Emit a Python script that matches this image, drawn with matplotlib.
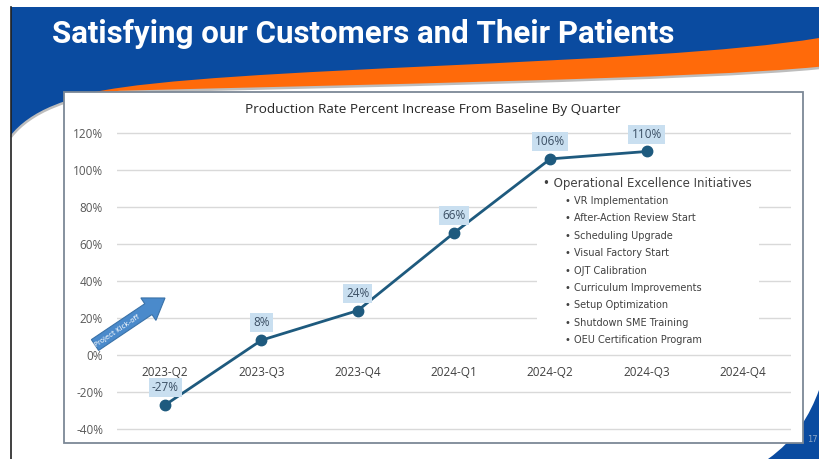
#
# Production rate slide recreation

import numpy as np
import matplotlib.pyplot as plt
from matplotlib.path import Path
from matplotlib.patches import PathPatch, Rectangle, FancyArrow

# chart data
quarters = ['2023-Q2', '2023-Q3', '2023-Q4', '2024-Q1', '2024-Q2', '2024-Q3', '2024-Q4']
increase = [-27, 8, 24, 66, 106, 110]  # percent, 2024-Q4 has no value yet
y_ticks = [-40, -20, 0, 20, 40, 60, 80, 100, 120]

slide_title = 'Satisfying our Customers and Their Patients'
chart_title = 'Production Rate Percent Increase From Baseline By Quarter'
initiatives_head = 'Operational Excellence Initiatives'
initiatives = ['VR Implementation', 'After-Action Review Start', 'Scheduling Upgrade',
               'Visual Factory Start', 'OJT Calibration', 'Curriculum Improvements',
               'Setup Optimization', 'Shutdown SME Training', 'OEU Certification Program']

BLUE = '#0A4BA0'
ORANGE = '#FF6A0A'
LINE = '#1E5A7E'

W, H = 819, 459
fig = plt.figure(figsize=(W / 100, H / 100), dpi=100)

# background axes in pixel coords (y down)
bg = fig.add_axes([0, 0, 1, 1])
bg.set_xlim(0, W)
bg.set_ylim(H, 0)
bg.axis('off')

bg.add_patch(Rectangle((11, 7), W - 11, 140, facecolor=BLUE, edgecolor='none'))

# orange swoosh
orange = Path([(95, 92), (220, 66), (650, 66), (819, 38), (819, 150), (95, 150), (95, 92)],
              [Path.MOVETO, Path.CURVE4, Path.CURVE4, Path.CURVE4,
               Path.LINETO, Path.LINETO, Path.CLOSEPOLY])
bg.add_patch(PathPatch(orange, facecolor=ORANGE, edgecolor='none'))

# white body of the slide
white_top = [(11, 137), (30, 112), (70, 96), (120, 92), (350, 86), (700, 80), (819, 68)]
white = Path(white_top + [(819, 459), (11, 459), (11, 137)],
             [Path.MOVETO, Path.CURVE4, Path.CURVE4, Path.CURVE4,
              Path.CURVE4, Path.CURVE4, Path.CURVE4, Path.LINETO, Path.LINETO,
              Path.CLOSEPOLY])
bg.add_patch(PathPatch(white, facecolor='white', edgecolor='none'))
shadow = Path(white_top, [Path.MOVETO] + [Path.CURVE4] * 6)
bg.add_patch(PathPatch(shadow, facecolor='none', edgecolor='#BDBDBD', lw=1.8))

# bottom right corner swoosh
corner = Path([(768, 459), (795, 440), (810, 415), (819, 390), (819, 459), (768, 459)],
              [Path.MOVETO, Path.CURVE4, Path.CURVE4, Path.CURVE4,
               Path.LINETO, Path.CLOSEPOLY])
bg.add_patch(PathPatch(corner, facecolor=BLUE, edgecolor='none'))
bg.text(812, 440, '17', fontsize=6, color='#8FA8C8', ha='center', va='center')

bg.plot([11, 11], [7, 459], color='#202020', lw=1.2)

bg.text(52, 34, slide_title, color='white', fontsize=22.5, fontweight='bold',
        family='Roboto', ha='left', va='center')

# chart frame
bg.add_patch(Rectangle((64, 92), 739, 351, facecolor='white', edgecolor='#7C8896', lw=1.3))
bg.text(433, 109, chart_title, fontsize=9.7, color='#262626', ha='center', va='center',
        family='Open Sans')

# plot area
ax = fig.add_axes([117 / W, 0.0452, 674 / W, 0.6852])
ax.patch.set_alpha(0)
ax.set_xlim(-0.5, len(quarters) - 0.5)
ax.set_ylim(-45, 125)
for s in ax.spines.values():
    s.set_visible(False)
ax.set_xticks([])
ax.set_yticks(y_ticks)
ax.set_yticklabels(['{0}%'.format(v) for v in y_ticks], fontsize=8.5, color='#595959',
                   family='Open Sans')
ax.tick_params(axis='y', length=0, pad=10)
for v in y_ticks:
    ax.axhline(v, color='#D9D9D9', lw=1, zorder=1)

for i, q in enumerate(quarters):
    ax.annotate(q, (i, 0), xytext=(0, -12.5), textcoords='offset points', ha='center',
                va='center', fontsize=8.5, color='#404040', family='Open Sans')

xs = np.arange(len(increase))
ax.plot(xs, increase, color=LINE, lw=2, marker='o', ms=7.5, zorder=4)
for x, v in zip(xs, increase):
    ax.annotate('{0}%'.format(v), (x, v), xytext=(0, 12.5), textcoords='offset points',
                ha='center', va='center', fontsize=8.5, color='#3A4E63', family='Open Sans',
                bbox=dict(boxstyle='square,pad=0.25', facecolor='#C9DFF0', edgecolor='none'),
                zorder=5)

# initiatives text box, sits over the gridlines
box = Rectangle((537, 172), 222, 181, facecolor='white', edgecolor='none',
                transform=bg.transData, zorder=3)
ax.add_patch(box)
ax.text(543, 184, '\u2022 ' + initiatives_head, transform=bg.transData, fontsize=8.5,
        color='#404040', ha='left', va='center', zorder=5)
for k, item in enumerate(initiatives):
    ax.text(565, 201 + k * 17.4, '\u2022 ' + item, transform=bg.transData, fontsize=7,
            color='#404040', ha='left', va='center', zorder=5)

# project kick-off arrow
arrow = FancyArrow(95, 345, 70, -47, width=13, head_width=27, head_length=20,
                   length_includes_head=True, facecolor='#4A8ACB', edgecolor='#3A72A8',
                   lw=0.8, transform=bg.transData, zorder=5, clip_on=False)
ax.add_patch(arrow)
ax.text(117, 331, 'Project Kick-off', transform=bg.transData, fontsize=5, color='white',
        rotation=np.degrees(np.arctan2(47, 70)), ha='center', va='center',
        rotation_mode='anchor', zorder=6)

fig.savefig('out.png', dpi=100)
